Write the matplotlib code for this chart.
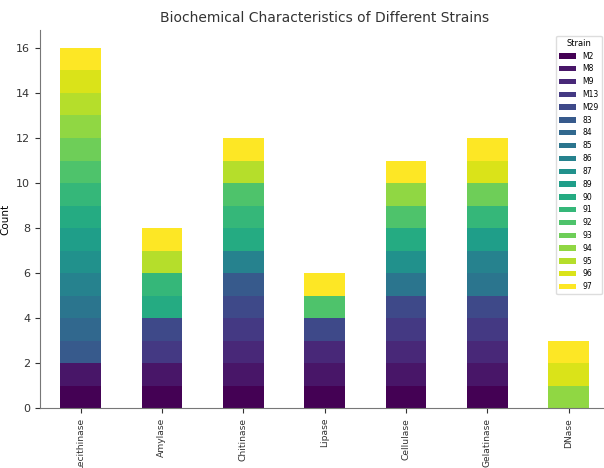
import numpy as np
import pandas as pd
import matplotlib
matplotlib.use('Agg')
import matplotlib.pyplot as plt

enzymes = ['Lecithinase', 'Amylase', 'Chitinase', 'Lipase', 'Cellulase', 'Gelatinase', 'DNase']
strains = ['M2', 'M8', 'M9', 'M13', 'M29', '83', '84', '85', '86', '87',
           '89', '90', '91', '92', '93', '94', '95', '96', '97']

# strains positive for each test
positive = {
    'Lecithinase': ['M2', 'M8', '83', '84', '85', '86', '87', '89', '90', '91', '92', '93', '94', '95', '96', '97'],
    'Amylase': ['M2', 'M8', 'M13', 'M29', '90', '91', '95', '97'],
    'Chitinase': ['M2', 'M8', 'M9', 'M13', 'M29', '83', '86', '90', '91', '92', '95', '97'],
    'Lipase': ['M2', 'M8', 'M9', 'M29', '92', '97'],
    'Cellulase': ['M2', 'M8', 'M9', 'M13', 'M29', '85', '87', '90', '92', '94', '97'],
    'Gelatinase': ['M2', 'M8', 'M9', 'M13', 'M29', '85', '86', '89', '91', '93', '96', '97'],
    'DNase': ['94', '96', '97'],
}

df = pd.DataFrame(0, index=enzymes, columns=strains)
for enz, lst in positive.items():
    df.loc[enz, lst] = 1

fig = plt.figure(figsize=(6.04, 4.68), dpi=100)
ax = fig.add_axes([0.066, 0.128, 0.943, 0.808])
ax.set_axisbelow(True)
ax.grid(True, color='#e6e6e6', linewidth=0.8)

df.plot(kind='bar', stacked=True, ax=ax, colormap='viridis', width=0.5, legend=False)

ax.set_xlim(-0.5, 6.5)
ax.set_ylim(0, 16.8)
ax.set_yticks(range(0, 17, 2))
ax.tick_params(axis='y', labelsize=8, colors='#333333')
ax.tick_params(axis='x', labelsize=6.6, colors='#333333')
ax.set_ylabel('Count', fontsize=7.5)
ax.set_title('Biochemical Characteristics of Different Strains', fontsize=10, color='#333333')
for s in ['top', 'right']:
    ax.spines[s].set_visible(False)
for s in ['left', 'bottom']:
    ax.spines[s].set_color('#777777')

leg = ax.legend(title='Strain', loc='upper left', bbox_to_anchor=(0.9, 0.995),
                fontsize=5.5, title_fontsize=6, handlelength=2.2, labelspacing=0.5,
                framealpha=1, edgecolor='#dddddd')

fig.savefig('out.png', dpi=100)
